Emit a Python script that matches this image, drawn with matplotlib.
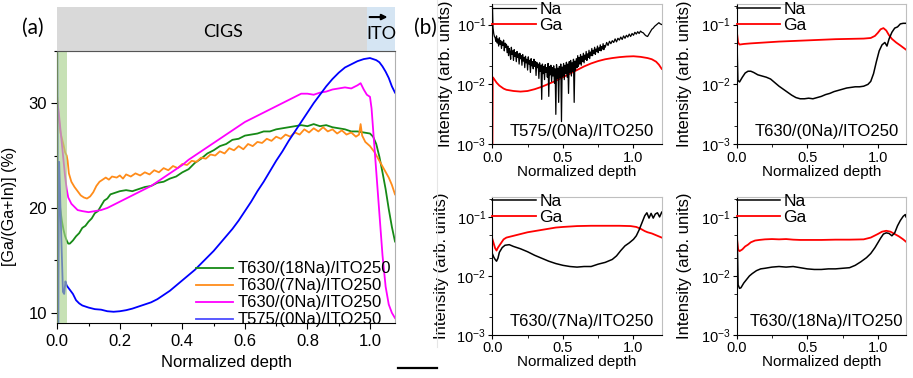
import numpy as np
import matplotlib
matplotlib.use("Agg")
import matplotlib.pyplot as plt
from matplotlib.lines import Line2D
from matplotlib.ticker import MultipleLocator, LogLocator, NullFormatter, FormatStrFormatter

plt.rcParams['font.family'] = ['Liberation Sans', 'DejaVu Sans']
plt.rcParams['mathtext.default'] = 'regular'

# ---------------- Panel (a) data: Ga/(Ga+In) (%) vs normalized depth ----------------
labels_a = ["T630/(18Na)/ITO250", "T630/(7Na)/ITO250", "T630/(0Na)/ITO250", "T575/(0Na)/ITO250"]
colors_a = ["#168a16", "#ff8c1a", "#ff00ff", "#0000ff"]

x_green = [0.0, 0.005, 0.01, 0.015, 0.02, 0.025, 0.03, 0.035, 0.04, 0.05, 0.06, 0.07, 0.08, 0.09, 0.10,
           0.11, 0.12, 0.13, 0.14, 0.15, 0.16, 0.17, 0.18, 0.20, 0.22, 0.24, 0.26, 0.28, 0.30, 0.32,
           0.34, 0.36, 0.38, 0.40, 0.42, 0.44, 0.46, 0.48, 0.50, 0.52, 0.54, 0.56, 0.58, 0.60, 0.62,
           0.64, 0.66, 0.68, 0.70, 0.72, 0.74, 0.76, 0.78, 0.80, 0.82, 0.84, 0.86, 0.88, 0.90, 0.92,
           0.94, 0.96, 0.98, 1.00, 1.01, 1.02, 1.03, 1.04, 1.05, 1.06, 1.07, 1.08]
y_green = [22.5, 21.0, 19.8, 18.7, 17.9, 17.3, 16.9, 16.6, 16.6, 16.9, 17.3, 17.6, 18.1, 18.3, 18.7,
           19.0, 19.5, 19.7, 20.2, 20.7, 20.9, 21.3, 21.4, 21.6, 21.7, 21.6, 21.8, 22.0, 22.1, 22.4,
           22.5, 22.8, 23.0, 23.4, 23.7, 24.3, 24.7, 25.2, 25.5, 25.9, 26.1, 26.5, 26.6, 26.9, 27.0,
           27.1, 27.3, 27.3, 27.5, 27.6, 27.7, 27.8, 27.9, 27.8, 28.0, 27.8, 27.9, 27.7, 27.6, 27.5,
           27.3, 27.3, 27.2, 27.1, 26.8, 26.1, 24.9, 23.4, 21.8, 19.9, 18.2, 16.8]

x_orange = [0.0, 0.005, 0.01, 0.015, 0.02, 0.025, 0.03, 0.033, 0.037, 0.045, 0.055, 0.065, 0.075, 0.085,
            0.095, 0.105, 0.115, 0.125, 0.135, 0.145, 0.155, 0.165, 0.175, 0.19, 0.20, 0.21, 0.22, 0.235,
            0.25, 0.265, 0.28, 0.295, 0.31, 0.325, 0.34, 0.355, 0.37, 0.385, 0.40, 0.415, 0.43, 0.445,
            0.46, 0.475, 0.49, 0.505, 0.52, 0.535, 0.55, 0.565, 0.58, 0.595, 0.61, 0.625, 0.64, 0.655,
            0.67, 0.685, 0.70, 0.715, 0.73, 0.745, 0.76, 0.775, 0.79, 0.805, 0.82, 0.835, 0.85, 0.865,
            0.88, 0.895, 0.91, 0.925, 0.94, 0.955, 0.965, 0.97, 0.975, 0.985, 1.00, 1.015, 1.03, 1.045,
            1.06, 1.07, 1.08]
y_orange = [30.5, 28.5, 27.2, 26.6, 26.0, 25.3, 25.0, 24.5, 23.3, 22.5, 22.0, 21.6, 21.2, 21.0,
            20.9, 21.1, 21.5, 22.1, 22.5, 22.7, 22.9, 22.7, 23.0, 22.9, 23.1, 22.8, 23.2, 23.0,
            23.3, 23.1, 23.4, 23.2, 23.6, 23.4, 23.8, 23.6, 24.0, 23.8, 24.2, 24.1, 24.5, 24.4,
            24.8, 24.7, 25.1, 25.0, 25.4, 25.2, 25.7, 25.5, 25.9, 25.6, 26.1, 25.9, 26.3, 26.2,
            26.6, 26.4, 26.8, 26.6, 27.0, 26.8, 27.2, 27.0, 27.5, 27.2, 27.6, 27.3, 27.7, 27.3,
            27.5, 27.1, 27.4, 27.0, 27.2, 26.8, 27.0, 28.0, 26.9, 26.3, 25.9, 25.3, 24.5, 23.7,
            22.9, 22.2, 21.3]

x_magenta = [0.0, 0.005, 0.01, 0.015, 0.02, 0.025, 0.03, 0.035, 0.045, 0.055, 0.065, 0.08, 0.10, 0.12,
             0.14, 0.16, 0.18, 0.20, 0.22, 0.24, 0.26, 0.28, 0.30, 0.32, 0.34, 0.36, 0.38, 0.40, 0.42,
             0.44, 0.46, 0.48, 0.50, 0.52, 0.54, 0.56, 0.58, 0.60, 0.62, 0.64, 0.66, 0.68, 0.70, 0.72,
             0.74, 0.76, 0.78, 0.80, 0.82, 0.84, 0.86, 0.88, 0.90, 0.92, 0.94, 0.96, 0.97, 0.98, 0.99,
             1.00, 1.005, 1.01, 1.02, 1.03, 1.04, 1.05, 1.06, 1.07, 1.08]
y_magenta = [30.2, 29.0, 27.5, 26.0, 24.5, 23.0, 21.8, 21.0, 20.4, 20.1, 19.8, 19.7, 19.6, 19.7,
             19.8, 20.0, 20.3, 20.6, 20.9, 21.2, 21.5, 21.8, 22.1, 22.5, 22.9, 23.3, 23.7, 24.1, 24.6,
             25.0, 25.4, 25.8, 26.2, 26.6, 27.0, 27.4, 27.8, 28.2, 28.5, 28.8, 29.1, 29.4, 29.7, 30.0,
             30.3, 30.6, 30.9, 30.9, 30.8, 31.0, 31.1, 31.3, 31.4, 31.5, 31.4, 31.7, 31.9, 31.3, 30.8,
             30.6, 29.5, 27.5, 23.5, 19.5, 15.5, 12.5, 10.8, 10.0, 9.5]

x_blue = [0.0, 0.003, 0.006, 0.012, 0.018, 0.022, 0.026, 0.03, 0.04, 0.05, 0.06, 0.07, 0.08, 0.09, 0.10,
          0.12, 0.14, 0.16, 0.18, 0.20, 0.22, 0.24, 0.26, 0.28, 0.30, 0.32, 0.34, 0.36, 0.38, 0.40,
          0.42, 0.44, 0.46, 0.48, 0.50, 0.52, 0.54, 0.56, 0.58, 0.60, 0.62, 0.64, 0.66, 0.68, 0.70,
          0.72, 0.74, 0.76, 0.78, 0.80, 0.82, 0.84, 0.86, 0.88, 0.90, 0.92, 0.94, 0.96, 0.98, 1.00,
          1.02, 1.03, 1.04, 1.05, 1.06, 1.07, 1.08]
y_blue = [36.0, 9.0, 24.4, 18.0, 12.0, 11.8, 13.0, 12.6, 12.2, 11.8, 11.2, 10.9, 10.7, 10.6, 10.5,
          10.35, 10.3, 10.15, 10.1, 10.15, 10.25, 10.4, 10.6, 10.8, 11.0, 11.3, 11.7, 12.1, 12.6, 13.1,
          13.6, 14.1, 14.7, 15.3, 15.9, 16.6, 17.3, 18.0, 18.8, 19.7, 20.6, 21.6, 22.5, 23.5, 24.5,
          25.4, 26.4, 27.3, 28.2, 29.1, 30.0, 30.8, 31.6, 32.3, 32.9, 33.4, 33.7, 34.0, 34.2, 34.3,
          34.1, 33.9, 33.5, 33.0, 32.4, 31.6, 31.0]

# ---------------- Panel (b) data: log10 of SIMS intensity (arb. units) ----------------
titles_b = ["T575/(0Na)/ITO250", "T630/(0Na)/ITO250", "T630/(7Na)/ITO250", "T630/(18Na)/ITO250"]

# T575 Na: very noisy; sampled every 0.005 from 0.02 to 0.80, then every 0.01 to 1.20
x_na_t575_head = [0.0, 0.005, 0.01, 0.015]
log_na_t575_head = [-0.60, -1.05, -1.15, -1.20]
log_na_t575_mid = [
    -1.22, -1.28, -1.19, -1.31, -1.24, -1.36, -1.22, -1.33, -1.27, -1.40, -1.29, -1.35, -1.26, -1.44, -1.31, -1.38, -1.33,
    -1.47, -1.36, -1.52, -1.40, -1.45, -1.58, -1.38, -1.50, -1.44, -1.60, -1.42, -1.53, -1.47, -1.62, -1.45, -1.55, -1.49, -1.66, -1.48, -1.57,
    -1.52, -1.68, -1.50, -1.61, -1.55, -1.72, -1.53, -1.64, -1.58, -1.76, -1.54, -1.66, -1.60, -1.80, -1.57, -1.69, -1.62, -1.74, -1.58, -1.70,
    -1.62, -1.85, -1.63, -1.72, -1.66, -1.90, -1.64, -1.78, -1.68, -2.25, -1.66, -1.82, -1.70, -1.92, -1.67, -1.80, -1.72, -1.88, -1.65, -2.20,
    -1.70, -1.84, -1.68, -1.95, -1.72, -1.86, -1.69, -1.98, -1.74, -2.50, -1.67, -1.90, -1.73, -2.30, -1.70, -1.88, -1.66, -2.62, -1.71, -1.86,
    -1.65, -1.92, -1.68, -1.82, -1.63, -1.88, -1.66, -2.15, -1.62, -1.80, -1.60, -1.86, -1.64, -1.78, -1.58, -2.30, -1.61, -1.76, -1.57, -1.72,
    -1.52, -1.70, -1.55, -1.66, -1.50, -1.68, -1.53, -1.62, -1.48, -1.64, -1.51, -1.58, -1.45, -1.60, -1.49, -1.55, -1.43, -1.57, -1.46, -1.52,
    -1.40, -1.52, -1.43, -1.48, -1.38, -1.50, -1.41, -1.45, -1.36, -1.47, -1.39, -1.43, -1.34, -1.44, -1.37, -1.41, -1.32, -1.42, -1.35, -1.38]
log_na_t575_tail = [
    -1.30, -1.35, -1.28, -1.32, -1.27, -1.30, -1.24, -1.29, -1.23, -1.26, -1.21, -1.25, -1.19, -1.23, -1.18, -1.21,
    -1.16, -1.20, -1.15, -1.18, -1.13, -1.16, -1.12, -1.15, -1.11, -1.13, -1.14, -1.17, -1.19, -1.20, -1.16, -1.12,
    -1.08, -1.06, -1.03, -1.01, -0.99, -0.97, -0.99, -1.00]
x_na_t575 = (x_na_t575_head + list(np.linspace(0.02, 0.80, len(log_na_t575_mid)))
             + list(np.linspace(0.81, 1.20, len(log_na_t575_tail))))
log_na_t575 = log_na_t575_head + log_na_t575_mid + log_na_t575_tail

x_ga_t575 = [0.0, 0.003, 0.01, 0.03, 0.05, 0.08, 0.10, 0.15, 0.20, 0.25, 0.30, 0.35, 0.40, 0.45, 0.50,
             0.55, 0.60, 0.65, 0.70, 0.75, 0.80, 0.85, 0.90, 0.95, 1.00, 1.05, 1.10, 1.13, 1.16, 1.18, 1.20]
log_ga_t575 = [-3.5, -1.88, -1.90, -1.97, -2.02, -2.07, -2.09, -2.11, -2.12, -2.11, -2.08, -2.04, -1.99,
               -1.94, -1.88, -1.82, -1.76, -1.70, -1.65, -1.61, -1.58, -1.56, -1.545, -1.535, -1.53,
               -1.54, -1.56, -1.58, -1.62, -1.67, -1.74]

x_na_t630_0 = [0.0, 0.004, 0.008, 0.02, 0.04, 0.06, 0.08, 0.10, 0.12, 0.15, 0.18, 0.21, 0.24, 0.27, 0.30,
               0.33, 0.36, 0.39, 0.42, 0.45, 0.48, 0.51, 0.54, 0.57, 0.60, 0.63, 0.66, 0.69, 0.72, 0.75,
               0.78, 0.81, 0.84, 0.87, 0.90, 0.93, 0.95, 0.97, 0.99, 1.01, 1.03, 1.05, 1.065, 1.08, 1.10,
               1.12, 1.14, 1.16, 1.18, 1.20]
log_na_t630_0 = [-0.60, -1.50, -1.93, -1.96, -1.88, -1.81, -1.78, -1.78, -1.80, -1.84, -1.86, -1.88, -1.91,
                 -1.97, -2.03, -2.08, -2.13, -2.18, -2.22, -2.24, -2.24, -2.23, -2.24, -2.22, -2.20, -2.17,
                 -2.15, -2.12, -2.10, -2.08, -2.06, -2.05, -2.04, -2.04, -2.03, -2.00, -1.95, -1.82, -1.62,
                 -1.44, -1.34, -1.30, -1.36, -1.24, -1.13, -1.06, -1.04, -0.99, -0.98, -0.98]
x_ga_t630_0 = [0.0, 0.01, 0.02, 0.05, 0.10, 0.20, 0.30, 0.40, 0.50, 0.60, 0.70, 0.80, 0.90, 0.95, 0.98,
               1.00, 1.02, 1.04, 1.06, 1.08, 1.10, 1.13, 1.16, 1.20]
log_ga_t630_0 = [-1.10, -1.30, -1.335, -1.325, -1.315, -1.30, -1.285, -1.275, -1.265, -1.255, -1.245,
                 -1.24, -1.235, -1.225, -1.19, -1.14, -1.08, -1.06, -1.10, -1.18, -1.24, -1.30, -1.35, -1.42]

x_na_t630_7 = [0.0, 0.01, 0.02, 0.03, 0.04, 0.05, 0.07, 0.09, 0.12, 0.15, 0.20, 0.25, 0.30, 0.35, 0.40,
               0.45, 0.50, 0.55, 0.60, 0.65, 0.70, 0.75, 0.80, 0.85, 0.88, 0.91, 0.94, 0.97, 1.00, 1.02,
               1.04, 1.06, 1.08, 1.095, 1.11, 1.125, 1.14, 1.155, 1.17, 1.185, 1.20]
log_na_t630_7 = [-1.62, -1.68, -1.72, -1.75, -1.70, -1.60, -1.52, -1.48, -1.47, -1.50, -1.54, -1.59, -1.65,
                 -1.70, -1.75, -1.79, -1.82, -1.84, -1.85, -1.84, -1.84, -1.80, -1.77, -1.72, -1.66, -1.57,
                 -1.49, -1.44, -1.38, -1.32, -1.22, -1.10, -0.98, -0.93, -1.02, -0.94, -1.02, -0.95, -0.93,
                 -1.00, -0.92]
x_ga_t630_7 = [0.0, 0.01, 0.02, 0.03, 0.04, 0.06, 0.08, 0.10, 0.15, 0.20, 0.25, 0.30, 0.35, 0.40, 0.45,
               0.50, 0.60, 0.70, 0.80, 0.90, 0.98, 1.02, 1.05, 1.08, 1.10, 1.13, 1.16, 1.20]
log_ga_t630_7 = [-1.37, -1.45, -1.53, -1.57, -1.52, -1.45, -1.38, -1.35, -1.32, -1.29, -1.26, -1.24, -1.22,
                 -1.20, -1.18, -1.17, -1.155, -1.15, -1.15, -1.15, -1.155, -1.17, -1.20, -1.24, -1.26,
                 -1.28, -1.31, -1.35]

x_na_t630_18 = [0.0, 0.005, 0.01, 0.02, 0.03, 0.05, 0.07, 0.09, 0.11, 0.14, 0.17, 0.20, 0.25, 0.30, 0.35,
                0.40, 0.45, 0.50, 0.55, 0.60, 0.65, 0.70, 0.75, 0.80, 0.84, 0.88, 0.92, 0.95, 0.98, 1.00,
                1.02, 1.04, 1.06, 1.08, 1.10, 1.12, 1.14, 1.16, 1.18, 1.195, 1.20]
log_na_t630_18 = [-0.75, -1.50, -2.15, -2.21, -2.20, -2.12, -2.06, -2.00, -1.96, -1.91, -1.88, -1.87, -1.85,
                  -1.84, -1.85, -1.84, -1.86, -1.88, -1.89, -1.89, -1.88, -1.88, -1.87, -1.86, -1.82, -1.76,
                  -1.69, -1.62, -1.52, -1.44, -1.36, -1.29, -1.27, -1.28, -1.32, -1.27, -1.15, -1.06, -0.99,
                  -0.96, -1.00]
x_ga_t630_18 = [0.0, 0.01, 0.02, 0.04, 0.06, 0.08, 0.10, 0.13, 0.16, 0.20, 0.25, 0.30, 0.35, 0.40, 0.45,
                0.50, 0.60, 0.70, 0.80, 0.90, 0.95, 1.00, 1.03, 1.06, 1.09, 1.12, 1.15, 1.18, 1.20]
log_ga_t630_18 = [-1.33, -1.55, -1.58, -1.55, -1.50, -1.47, -1.43, -1.40, -1.39, -1.38, -1.375, -1.38,
                  -1.375, -1.385, -1.39, -1.39, -1.39, -1.385, -1.385, -1.38, -1.35, -1.29, -1.25, -1.235,
                  -1.25, -1.29, -1.33, -1.38, -1.42]

# ---------------- Figure ----------------
W, H = 913, 378
fig = plt.figure(figsize=(W / 100, H / 100), dpi=100)

def rect(x0, y0, x1, y1):
    return [x0 / W, 1 - y1 / H, (x1 - x0) / W, (y1 - y0) / H]

FS = 10.5
CAL = ['Lato', 'DejaVu Sans']

# Panel (a)
axa = fig.add_axes(rect(57.3, 50.7, 395, 323.3))
series_a = [(x_green, y_green), (x_orange, y_orange), (x_magenta, y_magenta), (x_blue, y_blue)]
for (xs, ys), c, lab in zip(series_a, colors_a, labels_a):
    axa.plot(xs, ys, color=c, lw=1.3, label=lab, zorder=2)
axa.axvspan(0.0, 0.03, color='#a9d18e', alpha=0.65, lw=0, zorder=3)
axa.set_xlim(0, 1.08)
axa.set_ylim(9, 35)
axa.xaxis.set_major_locator(MultipleLocator(0.2))
axa.xaxis.set_minor_locator(MultipleLocator(0.1))
axa.yaxis.set_major_locator(MultipleLocator(10))
axa.yaxis.set_minor_locator(MultipleLocator(5))
axa.tick_params(which='major', direction='out', length=4, width=0.8, labelsize=FS + 1.5)
axa.tick_params(which='minor', direction='out', length=2.5, width=0.8)
axa.xaxis.set_major_formatter(FormatStrFormatter('%.1f'))
for s in ['top', 'right']:
    axa.spines[s].set_color('#b0b0b0')
axa.set_xlabel('Normalized depth', fontsize=FS + 1.5)
axa.xaxis.set_label_coords(0.5, -0.115)
axa.set_ylabel('[Ga/(Ga+In)] (%)', fontsize=FS + 1)
axa.yaxis.set_label_coords(-0.12, 0.43)
leg = axa.legend(loc='lower right', bbox_to_anchor=(0.99, -0.015), frameon=False, fontsize=FS + 1.5,
                 handlelength=2.2, handletextpad=0.3, labelspacing=0.12, borderpad=0, borderaxespad=0)
leg.get_lines()[3].set_alpha(0.7)

# Top band
band = fig.add_axes(rect(57.3, 7, 395, 50.7))
band.set_xlim(0, 1.08)
band.set_ylim(0, 1)
band.axvspan(-0.01, 0.991, color='#d9d9d9', lw=0)
band.axvspan(0.991, 1.08, color='#d5e5f3', lw=0)
band.set_xticks([]); band.set_yticks([])
for s in ['top', 'left', 'right']:
    band.spines[s].set_visible(False)
band.spines['bottom'].set_color('#555555')
band.text(0.53, 0.43, 'CIGS', ha='center', va='center', fontsize=FS + 2.5, family=CAL)
band.text(1.036, 0.38, 'ITO', ha='center', va='center', fontsize=FS + 2.5, family=CAL)
band.annotate('', xy=(1.065, 0.77), xytext=(0.99, 0.77),
              arrowprops=dict(arrowstyle='-|>', color='black', lw=1.5, mutation_scale=8))

fig.text(33 / W, 1 - 28 / H, '(a)', ha='center', va='center', fontsize=FS + 4.5, family=CAL)
fig.text(425 / W, 1 - 28 / H, '(b)', ha='center', va='center', fontsize=FS + 4.5, family=CAL)

# Panel (b)
rects_b = [rect(492.3, 4, 661.7, 144.3), rect(736.7, 4, 906, 144.3),
           rect(492.3, 196.7, 661.7, 335), rect(736.7, 196.7, 906, 335)]
na_series = [(x_na_t575, log_na_t575), (x_na_t630_0, log_na_t630_0),
             (x_na_t630_7, log_na_t630_7), (x_na_t630_18, log_na_t630_18)]
ga_series = [(x_ga_t575, log_ga_t575), (x_ga_t630_0, log_ga_t630_0),
             (x_ga_t630_7, log_ga_t630_7), (x_ga_t630_18, log_ga_t630_18)]
ylab_x = [-0.232, -0.266, -0.255, -0.266]
for i in range(4):
    ax = fig.add_axes(rects_b[i])
    xn, ln = na_series[i]
    xg, lg = ga_series[i]
    ax.plot(xn, 10 ** np.array(ln), color='black', lw=0.9 if i == 0 else 1.1, label='Na', zorder=3)
    ax.plot(xg, 10 ** np.array(lg), color='#ff0000', lw=1.3, label='Ga', zorder=2)
    ax.set_yscale('log')
    ax.set_xlim(0, 1.2)
    ax.set_ylim(1e-3, 0.22)
    ax.xaxis.set_major_locator(MultipleLocator(0.5))
    ax.xaxis.set_minor_locator(MultipleLocator(0.25))
    ax.xaxis.set_major_formatter(FormatStrFormatter('%.1f'))
    ax.yaxis.set_major_locator(LogLocator(base=10, numticks=10))
    ax.yaxis.set_minor_locator(LogLocator(base=10, subs=(2, 5), numticks=10))
    ax.yaxis.set_minor_formatter(NullFormatter())
    ax.tick_params(which='major', direction='out', length=3, width=0.8, labelsize=FS, pad=1.5)
    ax.tick_params(which='minor', direction='out', length=2, width=0.6)
    for s in ['top', 'right']:
        ax.spines[s].set_color('#bfbfbf')
    ax.set_xlabel('Normalized depth', fontsize=FS + 0.5)
    ax.xaxis.set_label_coords(0.5, -0.145)
    ax.set_ylabel('Intensity (arb. units)', fontsize=FS + 1.5)
    ax.yaxis.set_label_coords(ylab_x[i], 0.5)
    ax.legend(loc='upper left', bbox_to_anchor=(-0.01, 1.03), frameon=False, fontsize=FS + 2,
              handlelength=2.5, handletextpad=0.2, labelspacing=0.05, borderpad=0.1, borderaxespad=0)
    ax.text(0.53, 0.04, titles_b[i], transform=ax.transAxes, ha='center', va='bottom', fontsize=FS + 1.5)

# decorative separators
fig.add_artist(Line2D([398 / W, 437 / W], [1 - 368 / H, 1 - 368 / H], color='black', lw=1.6))
fig.add_artist(Line2D([437 / W, 437 / W], [1 - 0 / H, 1 - 347 / H], color='#e6e6e6', lw=0.8))

fig.savefig('out.png', dpi=100)
